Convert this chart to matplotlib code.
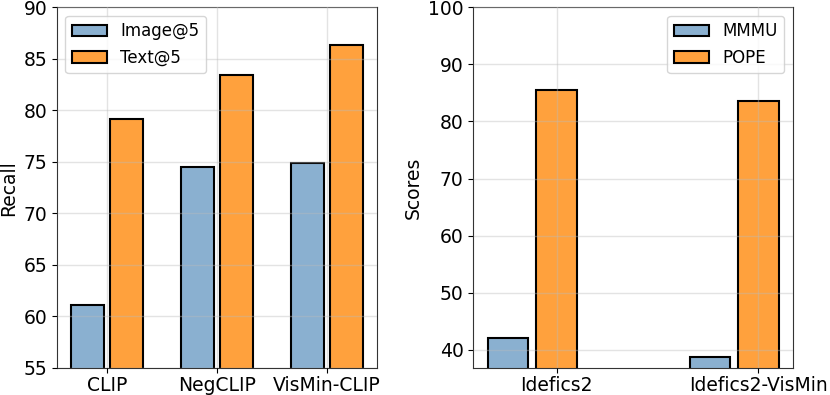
import numpy as np
import matplotlib
matplotlib.use("Agg")
import matplotlib.pyplot as plt

# left panel: retrieval recall
models_l = ["CLIP", "NegCLIP", "VisMin-CLIP"]
image_at5 = [61.1, 74.5, 74.9]
text_at5 = [79.2, 83.4, 86.3]

# right panel: MLLM scores
models_r = ["Idefics2", "Idefics2-VisMin"]
mmmu = [42.0, 38.7]
pope = [85.5, 83.6]

BLUE = "#8AB0D0"
ORANGE = "#FFA13D"
FS = 13.5

fig = plt.figure(figsize=(8.3, 3.95), dpi=100)
ax1 = fig.add_axes([0.0687, 0.0684, 0.3855, 0.913])
ax2 = fig.add_axes([0.5703, 0.0684, 0.3848, 0.913])

# left
x = np.arange(len(models_l))
w = 0.3
ax1.bar(x - 0.175, image_at5, w, color=BLUE, edgecolor="k", lw=1.5, label="Image@5", zorder=1)
ax1.bar(x + 0.175, text_at5, w, color=ORANGE, edgecolor="k", lw=1.5, label="Text@5", zorder=1)
ax1.set_xticks(x)
ax1.set_xticklabels(models_l)
ax1.set_xlim(-0.455, 2.455)
ax1.set_ylim(55, 90)
ax1.set_ylabel("Recall", fontsize=FS)
ax1.legend(loc="upper left", fontsize=12, handlelength=2.1, handletextpad=0.8)

# right
x2 = np.arange(len(models_r))
w2 = 0.2
ax2.bar(x2 - 0.24, mmmu, w2, color=BLUE, edgecolor="k", lw=1.5, label="MMMU", zorder=1)
ax2.bar(x2, pope, w2, color=ORANGE, edgecolor="k", lw=1.5, label="POPE", zorder=1)
ax2.set_xticks(x2)
ax2.set_xticklabels(models_r)
ax2.set_xlim(-0.413, 1.17)
ax2.set_ylim(36.8, 100)
ax2.set_ylabel("Scores", fontsize=FS)
ax2.legend(loc="upper right", fontsize=12, handlelength=2.1, handletextpad=0.8)

for ax in (ax1, ax2):
    ax.tick_params(labelsize=FS)
    ax.tick_params(axis="x", pad=2)
    ax.grid(True, color="#bbbbbb", alpha=0.4, lw=1, zorder=3)
    ax.set_axisbelow(False)
    for s in ax.spines.values():
        s.set_color("#333333")

plt.savefig("out.png", dpi=100)
plt.close("all")
